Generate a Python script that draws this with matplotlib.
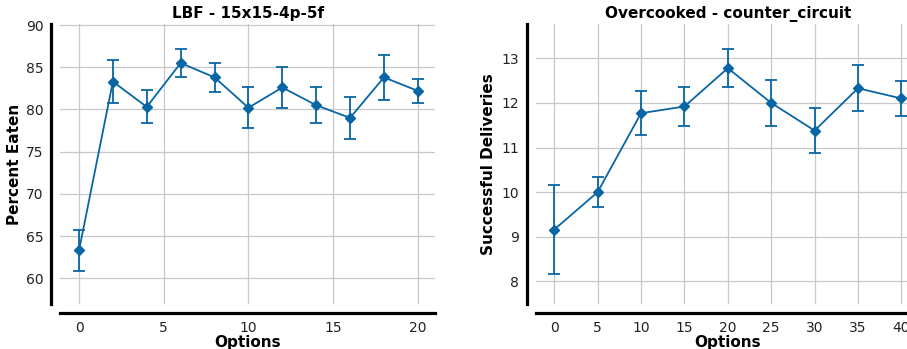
import matplotlib
matplotlib.use("Agg")
import matplotlib.pyplot as plt

# LBF results
lbf_options = [0, 2, 4, 6, 8, 10, 12, 14, 16, 18, 20]
lbf_mean = [63.3, 83.3, 80.3, 85.5, 83.8, 80.2, 82.6, 80.5, 79.0, 83.8, 82.2]
lbf_err = [2.4, 2.5, 1.95, 1.7, 1.72, 2.45, 2.45, 2.15, 2.45, 2.68, 1.38]

# Overcooked results
oc_options = [0, 5, 10, 15, 20, 25, 30, 35, 40]
oc_mean = [9.16, 10.0, 11.77, 11.92, 12.78, 12.0, 11.38, 12.33, 12.10]
oc_err = [1.0, 0.33, 0.49, 0.43, 0.43, 0.51, 0.5, 0.51, 0.39]

color = "#0866a5"

fig = plt.figure(figsize=(9.07, 3.49), dpi=100)
ax1 = fig.add_axes([0.0662, 0.1289, 0.4135, 0.8023])
ax2 = fig.add_axes([0.5906, 0.1289, 0.4237, 0.8023])


def style(ax):
    ax.grid(True, color="#c8c8c8", linewidth=0.9)
    ax.set_axisbelow(True)
    for s in ("top", "right"):
        ax.spines[s].set_visible(False)
    for s in ("left", "bottom"):
        ax.spines[s].set_position(("outward", 6.5))
        ax.spines[s].set_linewidth(2.3)
        ax.spines[s].set_color("black")
    ax.tick_params(length=0, labelsize=10, pad=5.5, colors="#222222")


ax1.errorbar(lbf_options, lbf_mean, yerr=lbf_err, color=color, marker="D",
             markersize=5, linewidth=1.3, capsize=4, elinewidth=1.3, capthick=1.3)
ax1.set_xlim(-1.12, 21.02)
ax1.set_ylim(56.95, 90.12)
ax1.set_xticks([0, 5, 10, 15, 20])
ax1.set_yticks([60, 65, 70, 75, 80, 85, 90])
ax1.set_title("LBF - 15x15-4p-5f", fontsize=11, fontweight="bold", pad=4)
ax1.set_xlabel("Options", fontsize=11, fontweight="bold", labelpad=0)
ax1.set_ylabel("Percent Eaten", fontsize=11, fontweight="bold", labelpad=3)
style(ax1)

ax2.errorbar(oc_options, oc_mean, yerr=oc_err, color=color, marker="D",
             markersize=5, linewidth=1.3, capsize=4, elinewidth=1.3, capthick=1.3)
ax2.set_xlim(-2.14, 42.14)
ax2.set_ylim(7.49, 13.77)
ax2.set_xticks([0, 5, 10, 15, 20, 25, 30, 35, 40])
ax2.set_yticks([8, 9, 10, 11, 12, 13])
ax2.set_title("Overcooked - counter_circuit", fontsize=11, fontweight="bold", pad=4)
ax2.set_xlabel("Options", fontsize=11, fontweight="bold", labelpad=0)
ax2.set_ylabel("Successful Deliveries", fontsize=11, fontweight="bold", labelpad=4)
style(ax2)

fig.savefig("out.png", dpi=100)
